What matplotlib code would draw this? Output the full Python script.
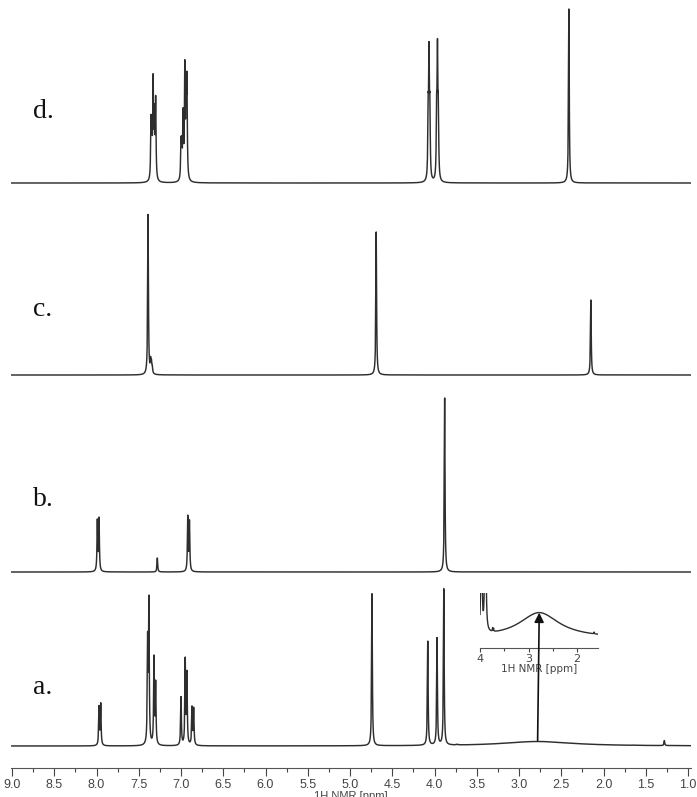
import numpy as np
import matplotlib
matplotlib.use('Agg')
import matplotlib.pyplot as plt
from matplotlib.ticker import MultipleLocator, FormatStrFormatter

# peak lists: shift (ppm) and height (a.u.)
d_ppm = [7.355, 7.345, 7.33, 7.315, 7.30, 7.00, 6.99, 6.975, 6.955, 6.94, 6.93,
         4.075, 4.065, 4.055, 3.975, 3.965, 3.955, 2.41]
d_int = [55, 40, 95, 60, 78, 36, 30, 62, 108, 70, 92,
         62, 116, 62, 62, 119, 62, 174]

c_ppm = [7.39, 7.36, 7.35, 7.34, 4.69, 2.15]
c_int = [160, 12, 10, 6, 143, 75]

b_ppm = [7.99, 7.97, 7.28, 6.92, 6.90, 3.88]
b_int = [50, 52, 14, 54, 49, 174]

a_ppm = [7.97, 7.95, 7.395, 7.38, 7.32, 7.30, 7.00, 6.95, 6.93, 6.87, 6.85,
         4.74, 4.08, 3.97, 3.89, 3.74, 3.72, 1.65, 1.28]
a_int = [38, 41, 100, 140, 86, 60, 48, 84, 70, 37, 36,
         152, 104, 107, 156, 0.6, 0.5, 0.3, 5]
# broad water/OH hump in a.
hump_ppm = [2.78]
hump_int = [4.5]
hump_w = [0.5]

labels = ['a.', 'b.', 'c.', 'd.']
offsets = [22, 196, 393, 585]     # baseline of each trace
lab_dy = [58, 72, 66, 71]         # label height above its baseline

LW = 0.005  # line half width (ppm)


def spectrum(x, ppm, inten, w=LW):
    y = np.zeros_like(x)
    for p, h in zip(ppm, inten):
        y += h / (1 + ((x - p) / w) ** 2)
    return y


x = np.arange(0.9, 9.1, 0.0005)
traces = [spectrum(x, a_ppm, a_int) + sum(spectrum(x, [p], [h], w) for p, h, w in zip(hump_ppm, hump_int, hump_w)),
          spectrum(x, b_ppm, b_int),
          spectrum(x, c_ppm, c_int),
          spectrum(x, d_ppm, d_int)]

W, H = 697, 797
fig = plt.figure(figsize=(W / 100, H / 100), dpi=100)
ax = fig.add_axes([11 / W, 29 / H, 680 / W, 768 / H])

col = '#2e2e2e'
for y, off, lab, dy in zip(traces, offsets, labels, lab_dy):
    ax.plot(x, y + off, color=col, lw=1.05)
    ax.text(8.75, off + dy, lab, family='Liberation Serif', fontsize=20,
            va='center', ha='left', color='#111111')

ax.set_xlim(9.012, 0.965)
ax.set_ylim(0, 768)
for s in ['left', 'right', 'top']:
    ax.spines[s].set_visible(False)
ax.spines['bottom'].set_color('#555555')
ax.set_yticks([])
ax.xaxis.set_major_locator(MultipleLocator(0.5))
ax.xaxis.set_minor_locator(MultipleLocator(0.25))
ax.xaxis.set_major_formatter(FormatStrFormatter('%.1f'))
ax.tick_params(axis='x', which='major', direction='out', length=6, width=0.8,
               pad=2, labelsize=9, colors='#444444')
ax.tick_params(axis='x', which='minor', direction='out', length=3, width=0.8,
               colors='#444444')
for t in ax.get_xticklabels():
    t.set_family('Liberation Sans')
ax.set_xlabel('1H NMR [ppm]', fontsize=8, labelpad=0, color='#444444',
              family='Liberation Sans')

# inset: zoom of the broad hump in a.
ax2 = fig.add_axes([480 / W, 149 / H, 118 / W, 55 / H])
ax2.patch.set_alpha(0)
ax2.plot(x, traces[0], color=col, lw=1.0)
ax2.set_xlim(4.0, 1.57)
ax2.set_ylim(-1.8, 8.0)
for s in ['left', 'right', 'top']:
    ax2.spines[s].set_visible(False)
ax2.spines['bottom'].set_color('#555555')
ax2.set_yticks([])
ax2.xaxis.set_major_locator(MultipleLocator(1))
ax2.xaxis.set_minor_locator(MultipleLocator(0.5))
ax2.xaxis.set_major_formatter(FormatStrFormatter('%d'))
ax2.tick_params(axis='x', which='major', direction='out', length=3, width=0.8,
                pad=1, labelsize=8, colors='#444444')
ax2.tick_params(axis='x', which='minor', direction='out', length=2, width=0.8,
                colors='#444444')
ax2.set_xlabel('1H NMR [ppm]', fontsize=7.5, labelpad=0, color='#444444')

ax2.annotate('', xy=(hump_ppm[0], hump_int[0]), xycoords='data',
             xytext=(hump_ppm[0], offsets[0] + hump_int[0] + 1),
             textcoords=ax.transData,
             arrowprops=dict(arrowstyle='-|>', color='#111111', lw=1.2,
                             mutation_scale=14, shrinkA=0, shrinkB=0))

fig.savefig('out.png', dpi=100)
